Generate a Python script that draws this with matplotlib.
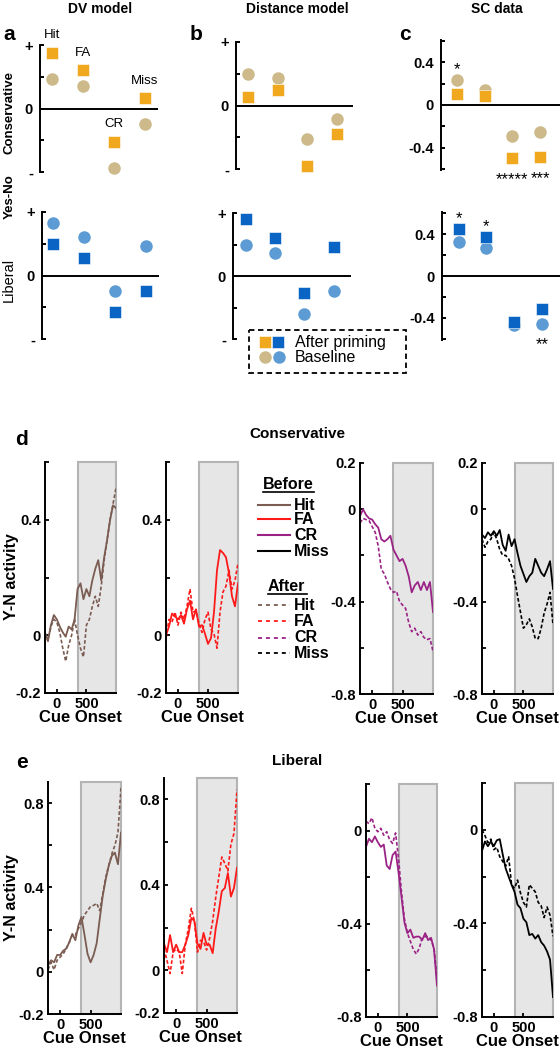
import matplotlib

matplotlib.use("Agg")
import matplotlib.pyplot as plt
from matplotlib.patches import Rectangle

plt.rcParams["font.family"] = ["Liberation Sans", "DejaVu Sans"]

W, H = 560, 1050

# ---- top: Yes-No index per response type (a: DV model, b: distance model, c: SC data)
conditions = ["Hit", "FA", "CR", "Miss"]
dv_cons_base = [0.47, 0.35, -0.94, -0.25]
dv_cons_after = [0.88, 0.60, -0.52, 0.17]
dv_lib_base = [0.83, 0.61, -0.25, 0.46]
dv_lib_after = [0.50, 0.28, -0.58, -0.24]
dist_cons_base = [0.50, 0.44, -0.52, -0.22]
dist_cons_after = [0.14, 0.24, -0.96, -0.45]
dist_lib_base = [0.50, 0.36, -0.60, -0.24]
dist_lib_after = [0.91, 0.61, -0.27, 0.46]
sc_cons_base = [0.236, 0.14, -0.29, -0.255]
sc_cons_after = [0.104, 0.085, -0.50, -0.49]
sc_lib_base = [0.32, 0.27, -0.47, -0.455]
sc_lib_after = [0.45, 0.37, -0.44, -0.31]
sc_cons_stars = ["*", "", "*****", "***"]
sc_lib_stars = ["*", "*", "", "**"]

# ---- bottom: Y-N activity time courses (ms from cue onset)
t_ms = [-200, -150, -100, -50, 0, 50, 100, 150, 200, 250, 300, 350, 400,
        450, 500, 550, 600, 650, 700, 750, 800, 850, 900, 950, 1000]

cons_hit_before = [0.01, -0.02, 0.035, 0.07, 0.055, 0.03, 0.01, -0.005, 0.03, 0.02, 0.055, 0.16, 0.18,
                   0.125, 0.16, 0.135, 0.19, 0.23, 0.26, 0.19, 0.27, 0.33, 0.40, 0.45, 0.44]
cons_hit_after = [0.005, -0.02, 0.03, 0.055, 0.045, 0.01, -0.045, -0.09, -0.035, 0.0, 0.055, 0.0, -0.045,
                  -0.075, 0.035, 0.055, 0.10, 0.135, 0.10, 0.17, 0.26, 0.33, 0.40, 0.455, 0.51]
cons_fa_before = [0.0, 0.03, 0.075, 0.065, 0.055, 0.07, 0.04, 0.09, 0.12, 0.055, 0.09, 0.03, 0.035,
                  0.005, -0.03, -0.01, 0.08, 0.225, 0.295, 0.285, 0.27, 0.215, 0.135, 0.10, 0.18]
cons_fa_after = [-0.01, 0.055, 0.045, 0.08, 0.035, 0.08, 0.055, 0.10, 0.16, 0.08, 0.085, 0.04, 0.01,
                 0.055, 0.08, 0.02, 0.005, -0.045, 0.08, 0.15, 0.17, 0.225, 0.16, 0.19, 0.25]
cons_cr_before = [-0.03, 0.0, -0.025, -0.04, -0.045, -0.065, -0.08, -0.13, -0.14, -0.13, -0.115, -0.175, -0.20,
                  -0.225, -0.215, -0.245, -0.29, -0.36, -0.33, -0.315, -0.35, -0.315, -0.35, -0.315, -0.445]
cons_cr_after = [-0.06, -0.04, -0.045, -0.05, -0.075, -0.10, -0.16, -0.26, -0.28, -0.315, -0.345, -0.36, -0.355,
                 -0.40, -0.415, -0.43, -0.49, -0.53, -0.515, -0.545, -0.53, -0.555, -0.565, -0.56, -0.615]
cons_miss_before = [-0.11, -0.125, -0.10, -0.115, -0.095, -0.115, -0.09, -0.155, -0.18, -0.11, -0.16, -0.13, -0.19,
                    -0.245, -0.28, -0.315, -0.29, -0.275, -0.215, -0.245, -0.275, -0.29, -0.26, -0.225, -0.345]
cons_miss_after = [-0.13, -0.165, -0.14, -0.13, -0.10, -0.13, -0.175, -0.20, -0.20, -0.215, -0.245, -0.30, -0.375,
                   -0.445, -0.515, -0.50, -0.475, -0.51, -0.56, -0.56, -0.515, -0.45, -0.41, -0.36, -0.50]

lib_hit_before = [0.03, 0.055, 0.045, 0.08, 0.08, 0.10, 0.11, 0.14, 0.18, 0.15, 0.22, 0.26, 0.175,
                  0.085, 0.045, 0.08, 0.135, 0.25, 0.36, 0.44, 0.505, 0.55, 0.565, 0.51, 0.66]
lib_hit_after = [0.01, 0.045, 0.01, 0.055, 0.07, 0.085, 0.11, 0.14, 0.175, 0.175, 0.205, 0.235, 0.27,
                 0.29, 0.31, 0.315, 0.325, 0.29, 0.37, 0.45, 0.505, 0.56, 0.60, 0.66, 0.875]
lib_fa_before = [0.125, 0.085, 0.165, 0.085, 0.12, 0.085, 0.085, 0.12, 0.165, 0.245, 0.23, 0.125, 0.10,
                 0.175, 0.12, 0.12, 0.08, 0.195, 0.275, 0.37, 0.385, 0.455, 0.345, 0.385, 0.48]
lib_fa_after = [0.10, 0.045, -0.015, 0.085, 0.10, 0.085, -0.015, 0.12, 0.195, 0.29, 0.23, 0.085, 0.14,
                0.135, 0.095, 0.15, 0.23, 0.34, 0.435, 0.53, 0.50, 0.465, 0.59, 0.64, 0.845]
lib_cr_before = [-0.07, -0.035, -0.05, -0.025, -0.05, -0.07, -0.06, -0.15, -0.165, -0.105, -0.09, -0.18, -0.285,
                 -0.395, -0.44, -0.425, -0.46, -0.455, -0.455, -0.47, -0.44, -0.47, -0.46, -0.51, -0.665]
lib_cr_after = [0.04, 0.03, 0.055, 0.01, -0.005, 0.01, -0.02, -0.005, -0.04, -0.055, -0.01, -0.12, -0.265,
                -0.38, -0.44, -0.475, -0.51, -0.53, -0.505, -0.46, -0.455, -0.455, -0.47, -0.505, -0.635]
lib_miss_before = [-0.09, -0.05, -0.07, -0.05, -0.07, -0.045, -0.04, -0.105, -0.165, -0.20, -0.235, -0.265, -0.32,
                   -0.335, -0.38, -0.395, -0.45, -0.445, -0.465, -0.45, -0.48, -0.495, -0.52, -0.555, -0.715]
lib_miss_after = [0.0, -0.025, -0.055, -0.04, -0.085, -0.075, -0.115, -0.135, -0.155, -0.115, -0.235, -0.25, -0.215,
                  -0.27, -0.31, -0.33, -0.235, -0.25, -0.265, -0.31, -0.325, -0.375, -0.33, -0.365, -0.455]

ORANGE, TAN = "#f0a81e", "#cdb98a"
BLUE, LIGHTBLUE = "#0a64c4", "#5c9bd3"
COLORS = {"Hit": "#7a5c52", "FA": "#ff1a1a", "CR": "#9b2386", "Miss": "black"}
SHADE_START = 350
BOLD = dict(fontweight="bold")


def px_axes(fig, left, top, right, bottom):
    ax = fig.add_axes([left / W, 1 - bottom / H, (right - left) / W, (bottom - top) / H])
    ax.patch.set_visible(False)
    return ax


def point_panel(fig, box, base, after, c_base, c_after, xlim, ylim, yticks, yticklabels):
    ax = px_axes(fig, *box)
    x = list(range(1, len(conditions) + 1))
    ax.plot(x, base, "o", ms=9, color=c_base, mec="none", clip_on=False, zorder=3)
    ax.plot(x, after, "s", ms=8.5, color=c_after, mec="white", mew=0.4, clip_on=False, zorder=4)
    ax.axhline(0, color="black", lw=1.4, zorder=2)
    ax.set_xlim(xlim)
    ax.set_ylim(ylim)
    for s in ("top", "right", "bottom"):
        ax.spines[s].set_visible(False)
    ax.spines["left"].set_linewidth(1.4)
    ax.set_xticks([])
    ax.set_yticks(yticks)
    ax.set_yticklabels(yticklabels, fontsize=10.5, **BOLD)
    ax.tick_params(axis="y", direction="in", length=3, width=1.4, pad=5)
    return ax


def add_stars(ax, base, after, stars, size):
    for i, s in enumerate(stars):
        if not s:
            continue
        hi, lo = max(base[i], after[i]), min(base[i], after[i])
        if hi > 0:
            ax.text(i + 1, hi + 0.1, s, ha="center", va="center", fontsize=size)
        else:
            ax.text(i + 1, lo - 0.2, s, ha="center", va="center", fontsize=size)


def trace_panel(fig, box, before, after, colour, ylim, yticks, ylabels):
    ax = px_axes(fig, *box)
    ax.axvspan(SHADE_START, 1000, facecolor="#e6e6e6", edgecolor="#b4b4b4", lw=1.5,
               zorder=0, clip_on=False)
    ax.plot(t_ms, after, color=colour, lw=1.2, ls=(0, (2.2, 1.3)), zorder=2)
    ax.plot(t_ms, before, color=colour, lw=1.3, zorder=3)
    ax.set_xlim(-200, 1000)
    ax.set_ylim(ylim)
    for s in ("top", "right"):
        ax.spines[s].set_visible(False)
    for s in ("left", "bottom"):
        ax.spines[s].set_linewidth(1.4)
        ax.spines[s].set_zorder(4)
    ax.set_xticks([0, 500])
    ax.set_xticklabels(["0", "500"], fontsize=10.5, **BOLD)
    ax.set_yticks(yticks)
    ax.set_yticklabels(ylabels, fontsize=10.5, **BOLD)
    ax.tick_params(direction="in", length=3, width=1.3, pad=3)
    ax.set_xlabel("Cue Onset", fontsize=12, labelpad=-1, **BOLD)
    return ax


fig = plt.figure(figsize=(W / 100, H / 100), dpi=100)

# overlay in pixel coordinates for labels, legends, underlines
ov = fig.add_axes([0, 0, 1, 1])
ov.set_xlim(0, W)
ov.set_ylim(H, 0)
ov.axis("off")

# ---------------- top section ----------------
pm_ticks = [-1, -0.5, 0, 0.5, 1]
pm_labels = ["-", "", "0", "", "+"]
sc_ticks = [-0.6, -0.4, -0.2, 0, 0.2, 0.4, 0.6]
sc_labels = ["", "-0.4", "", "0", "", "0.4", ""]

ax_a1 = point_panel(fig, (40, 45, 158, 172), dv_cons_base, dv_cons_after, TAN, ORANGE,
                    (0.62, 4.42), (-1, 1), pm_ticks, pm_labels)
for i, name in enumerate(conditions):
    ax_a1.text(i + 1, dv_cons_after[i] + 0.27, name, ha="center", va="center", fontsize=9.5)
point_panel(fig, (42, 212, 159, 339), dv_lib_base, dv_lib_after, LIGHTBLUE, BLUE,
            (0.64, 4.42), (-1, 1), pm_ticks, pm_labels)

point_panel(fig, (236, 42, 353, 169), dist_cons_base, dist_cons_after, TAN, ORANGE,
            (0.6, 4.54), (-1, 1), pm_ticks, pm_labels)
point_panel(fig, (233, 213, 351, 339), dist_lib_base, dist_lib_after, LIGHTBLUE, BLUE,
            (0.55, 4.6), (-1, 1), pm_ticks, pm_labels)

ax_c1 = point_panel(fig, (441, 40, 560, 170), sc_cons_base, sc_cons_after, TAN, ORANGE,
                    (0.42, 4.72), (-0.61, 0.61), sc_ticks, sc_labels)
add_stars(ax_c1, sc_cons_base, sc_cons_after, sc_cons_stars, 12)
ax_c2 = point_panel(fig, (442, 212, 560, 340), sc_lib_base, sc_lib_after, LIGHTBLUE, BLUE,
                    (0.4, 4.65), (-0.61, 0.61), sc_ticks, sc_labels)
add_stars(ax_c2, sc_lib_base, sc_lib_after, sc_lib_stars, 12)

for x, title in [(100, "DV model"), (297, "Distance model"), (497, "SC data")]:
    ov.text(x, 13, title, ha="center", va="baseline", fontsize=10, **BOLD)
for x, letter in [(9, "a"), (196, "b"), (405, "c")]:
    ov.text(x, 40, letter, ha="center", va="baseline", fontsize=15, **BOLD)

ov.text(10, 112, "Conservative", rotation=90, ha="center", va="center", fontsize=9.5, **BOLD)
ov.text(10, 197, "Yes-No", rotation=90, ha="center", va="center", fontsize=9.5, **BOLD)
ov.text(9, 280, "Liberal", rotation=90, ha="center", va="center", fontsize=10.5)

# dashed legend box for markers
ov.add_patch(Rectangle((249, 330), 157, 43, fill=False, ls=(0, (3, 2)), lw=1.3, ec="black"))
ov.plot([265], [342], "s", ms=8.5, color=ORANGE, mec="white", mew=0.4)
ov.plot([278], [342], "s", ms=8.5, color=BLUE, mec="white", mew=0.4)
ov.plot([265], [357], "o", ms=9, color=TAN, mec="none")
ov.plot([279], [357], "o", ms=9, color=LIGHTBLUE, mec="none")
ov.text(295, 342, "After priming", va="center", fontsize=11.5)
ov.text(295, 358, "Baseline", va="center", fontsize=11.5)

# ---------------- bottom section ----------------
pos_ticks = [-0.2, 0, 0.2, 0.4, 0.6]
pos_labels = ["-0.2", "0", "", "0.4", ""]
neg_ticks = [-0.8, -0.6, -0.4, -0.2, 0, 0.2]
neg_labels = ["-0.8", "", "-0.4", "", "0", "0.2"]
neg_labels_e = ["-0.8", "", "-0.4", "", "0", ""]
lib_ticks = [-0.2, 0, 0.2, 0.4, 0.6, 0.8]
lib_labels = ["-0.2", "0", "", "0.4", "", "0.8"]

trace_panel(fig, (45, 462, 116, 693), cons_hit_before, cons_hit_after, COLORS["Hit"],
            (-0.2, 0.6), pos_ticks, pos_labels)
trace_panel(fig, (166, 462, 238, 693), cons_fa_before, cons_fa_after, COLORS["FA"],
            (-0.2, 0.6), pos_ticks, pos_labels)
trace_panel(fig, (360, 463, 433, 694), cons_cr_before, cons_cr_after, COLORS["CR"],
            (-0.8, 0.2), neg_ticks, neg_labels)
trace_panel(fig, (482, 463, 553, 694), cons_miss_before, cons_miss_after, COLORS["Miss"],
            (-0.8, 0.2), neg_ticks, neg_labels)

trace_panel(fig, (48, 782, 121, 1014), lib_hit_before, lib_hit_after, COLORS["Hit"],
            (-0.2, 0.9), lib_ticks, lib_labels)
trace_panel(fig, (164, 778, 237, 1013), lib_fa_before, lib_fa_after, COLORS["FA"],
            (-0.2, 0.9), lib_ticks, lib_labels)
trace_panel(fig, (366, 784, 437, 1017), lib_cr_before, lib_cr_after, COLORS["CR"],
            (-0.8, 0.2), neg_ticks, neg_labels_e)
trace_panel(fig, (482, 783, 553, 1017), lib_miss_before, lib_miss_after, COLORS["Miss"],
            (-0.8, 0.2), neg_ticks, neg_labels_e)

ov.text(12, 577, "Y-N activity", rotation=90, ha="center", va="center", fontsize=11.5, **BOLD)
ov.text(12, 898, "Y-N activity", rotation=90, ha="center", va="center", fontsize=11.5, **BOLD)
ov.text(22, 445, "d", ha="center", va="baseline", fontsize=15, **BOLD)
ov.text(22, 768, "e", ha="center", va="baseline", fontsize=15, **BOLD)
ov.text(297, 438, "Conservative", ha="center", va="baseline", fontsize=11, **BOLD)
ov.text(297, 765, "Liberal", ha="center", va="baseline", fontsize=11, **BOLD)

# line legend (Before / After)
ov.text(263, 489, "Before", va="baseline", fontsize=11.5, **BOLD)
ov.plot([263, 314], [492, 492], color="black", lw=1.2)
for y, name in zip([505, 519, 535, 551], conditions):
    ov.plot([258, 290], [y, y], color=COLORS[name], lw=1.5)
    ov.text(294, y, name, va="center", fontsize=11.5, **BOLD)
ov.text(268, 591, "After", va="baseline", fontsize=11.5, **BOLD)
ov.plot([268, 307], [594, 594], color="black", lw=1.2)
for y, name in zip([605, 621, 638, 653], conditions):
    ov.plot([258, 290], [y, y], color=COLORS[name], lw=1.3, ls=(0, (2.2, 2.2)))
    ov.text(294, y, name, va="center", fontsize=11.5, **BOLD)

fig.savefig("out.png", dpi=100)
